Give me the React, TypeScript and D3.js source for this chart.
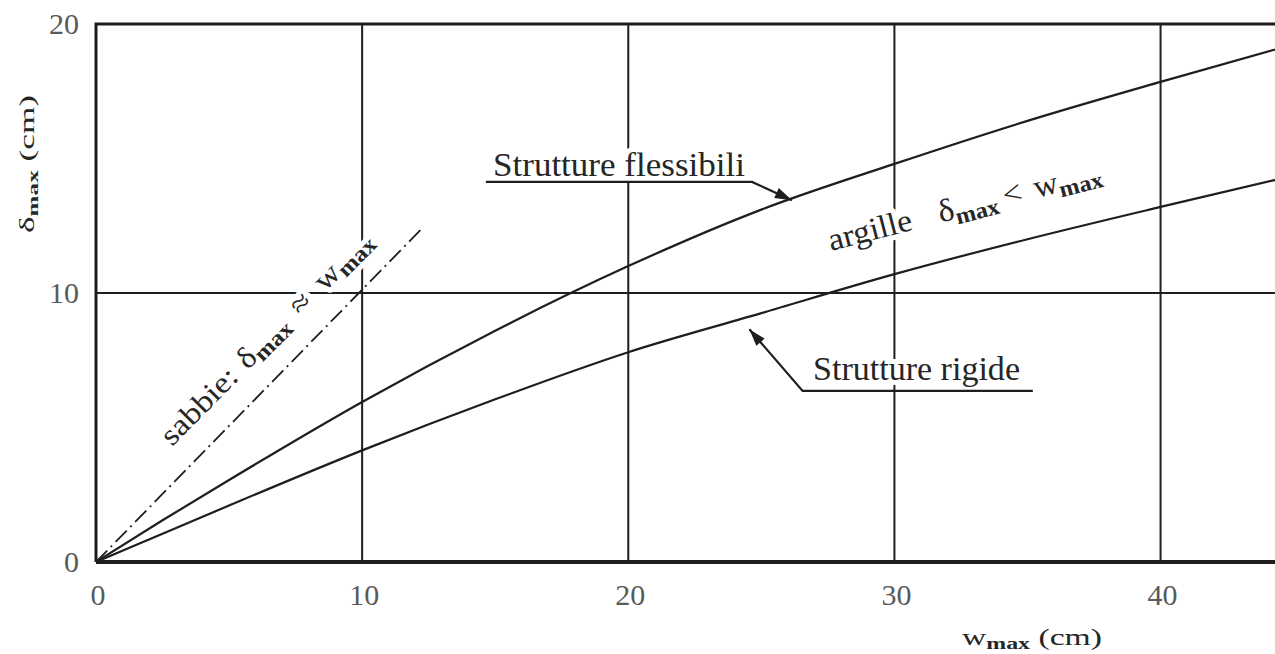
import React from 'react';
import * as d3 from 'd3';

// ---- data ----
const W_MAX = [0, 2.5, 5, 10, 15, 20, 25, 30, 35, 40, 44.3];
const FLESSIBILI = [0, 1.55, 3.05, 5.95, 8.6, 11.0, 13.1, 14.8, 16.4, 17.85, 19.05];
const RIGIDE = [0, 1.05, 2.1, 4.15, 6.05, 7.8, 9.25, 10.7, 12.0, 13.2, 14.2];
const SABBIE_W = [0, 12.3];
const SABBIE_D = [0, 12.45];
const X_TICKS = [0, 10, 20, 30, 40];
const Y_TICKS = [0, 10, 20];
const X_TICK_LABELS = ['0', '10', '20', '30', '40'];
const Y_TICK_LABELS = ['0', '10', '20'];
const X_GRID = [10, 20, 30, 40];
const Y_GRID = [10];

const X_DOMAIN: [number, number] = [0, 44.3];
const Y_DOMAIN: [number, number] = [0, 20];

// annotation anchors in data units
const FLEX_ARROW = { fromX: 14.65, toX: 24.65, lineY: 14.13, tipX: 26.15, tipY: 13.45 };
const RIG_ARROW = { fromX: 35.2, toX: 26.55, lineY: 6.36, tipX: 24.55, tipY: 8.65 };

const FONT = 'Liberation Serif, DejaVu Serif, serif';
const INK = '#1e1e1e';
const TXT = '#262626';
const TICK = '#5a5a5a';

export default function App() {
  const W = 1275;
  const H = 654;
  const x = d3.scaleLinear().domain(X_DOMAIN).range([96, 1275]);
  const y = d3.scaleLinear().domain(Y_DOMAIN).range([562, 24]);

  const curve = (vals: number[]) =>
    d3
      .line<number>()
      .x((_, i) => x(W_MAX[i]))
      .y((d) => y(d))
      .curve(d3.curveMonotoneX)(vals) as string;

  const sabbie = d3
    .line<number>()
    .x((d) => x(d))
    .y((_, i) => y(SABBIE_D[i]))(SABBIE_W) as string;

  const arrowHead = (fx: number, fy: number, tx: number, ty: number, len = 17, half = 5.5) => {
    const dx = tx - fx;
    const dy = ty - fy;
    const L = Math.hypot(dx, dy);
    const ux = dx / L;
    const uy = dy / L;
    const bx = tx - ux * len;
    const by = ty - uy * len;
    const px = -uy * half;
    const py = ux * half;
    return `M${tx},${ty}L${bx + px},${by + py}L${bx - px},${by - py}Z`;
  };

  const flexPath = `M${x(FLEX_ARROW.fromX)},${y(FLEX_ARROW.lineY)}H${x(FLEX_ARROW.toX)}L${x(FLEX_ARROW.tipX)},${y(FLEX_ARROW.tipY)}`;
  const rigPath = `M${x(RIG_ARROW.fromX)},${y(RIG_ARROW.lineY)}H${x(RIG_ARROW.toX)}L${x(RIG_ARROW.tipX)},${y(RIG_ARROW.tipY)}`;

  const labels = (halo: boolean) => {
    const p = halo
      ? { fill: '#fff', stroke: '#fff', strokeWidth: 10, strokeLinejoin: 'round' as const }
      : { fill: TXT };
    return (
      <g style={{ fontFamily: FONT }}>
        <text x={493} y={176} fontSize={33} textLength={252} lengthAdjust="spacingAndGlyphs" {...p}>
          Strutture flessibili
        </text>
        <text x={813} y={380} fontSize={33} textLength={207} lengthAdjust="spacingAndGlyphs" {...p}>
          Strutture rigide
        </text>
        <g transform="translate(831,251) rotate(-14.5)">
          <text fontSize={32} textLength={281} lengthAdjust="spacingAndGlyphs" {...p}>
            argille
            <tspan dx={26}>δ</tspan>
            <tspan fontSize={23} fontWeight="bold" dy={6}>max</tspan>
            <tspan dx={6} dy={-6}>&lt;</tspan>
            <tspan dx={12}>w</tspan>
            <tspan fontSize={23} fontWeight="bold" dy={6}>max</tspan>
          </text>
        </g>
        <g transform="translate(172,447) rotate(-45.3)">
          <text fontSize={30} textLength={288} lengthAdjust="spacingAndGlyphs" {...p}>
            sabbie:
            <tspan dx={10}>δ</tspan>
            <tspan fontSize={22} fontWeight="bold" dy={5}>max</tspan>
            <tspan dx={12} dy={-5}>≈</tspan>
            <tspan dx={14}>w</tspan>
            <tspan fontSize={22} fontWeight="bold" dy={5}>max</tspan>
          </text>
        </g>
      </g>
    );
  };

  return (
    <svg
      width={W}
      height={H}
      style={{ position: 'absolute', left: 0, top: 0, background: '#fff' }}
    >
      <rect x={0} y={0} width={W} height={H} fill="#fff" />

      {/* grid */}
      <g stroke={INK} strokeWidth={2}>
        {X_GRID.map((v) => (
          <line key={'gx' + v} x1={x(v)} x2={x(v)} y1={y(0)} y2={y(20)} />
        ))}
        {Y_GRID.map((v) => (
          <line key={'gy' + v} x1={x(0)} x2={x(X_DOMAIN[1])} y1={y(v)} y2={y(v)} />
        ))}
      </g>

      {/* frame */}
      <path
        d={`M${x(0)},${y(0)}V${y(20)}H${x(X_DOMAIN[1])}`}
        fill="none"
        stroke={INK}
        strokeWidth={3}
      />
      <line x1={x(0)} x2={x(X_DOMAIN[1])} y1={y(0)} y2={y(0)} stroke={INK} strokeWidth={4} />

      {/* label halos cut the grid */}
      {labels(true)}

      {/* curves */}
      <path d={curve(FLESSIBILI)} fill="none" stroke={INK} strokeWidth={2.2} />
      <path d={curve(RIGIDE)} fill="none" stroke={INK} strokeWidth={2.2} />
      <path d={sabbie} fill="none" stroke={INK} strokeWidth={1.8} strokeDasharray="16 5 2 5" />

      {/* arrows */}
      <path d={flexPath} fill="none" stroke={INK} strokeWidth={2.2} />
      <path
        d={arrowHead(x(FLEX_ARROW.toX), y(FLEX_ARROW.lineY), x(FLEX_ARROW.tipX), y(FLEX_ARROW.tipY))}
        fill={INK}
      />
      <path d={rigPath} fill="none" stroke={INK} strokeWidth={2.2} />
      <path
        d={arrowHead(x(RIG_ARROW.toX), y(RIG_ARROW.lineY), x(RIG_ARROW.tipX), y(RIG_ARROW.tipY))}
        fill={INK}
      />

      {labels(false)}

      {/* tick labels */}
      <g style={{ fontFamily: FONT }} fontSize={30} fill={TICK}>
        {Y_TICKS.map((v, i) => (
          <text key={'yt' + v} x={79} y={y(v) + 10} textAnchor="end">
            {Y_TICK_LABELS[i]}
          </text>
        ))}
        {X_TICKS.map((v, i) => (
          <text key={'xt' + v} x={x(v) + 2} y={605} textAnchor="middle">
            {X_TICK_LABELS[i]}
          </text>
        ))}
      </g>

      {/* axis titles */}
      <g transform="translate(34,164) rotate(-90)" style={{ fontFamily: FONT }} fill={TXT}>
        <text textAnchor="middle" fontSize={21} textLength={138} lengthAdjust="spacingAndGlyphs">
          δ<tspan fontSize={15} fontWeight="bold" dy={4}>max</tspan>
          <tspan dy={-4}> (cm)</tspan>
        </text>
      </g>
      <text
        x={962}
        y={645}
        style={{ fontFamily: FONT }}
        fill={TXT}
        fontSize={24}
        textLength={140}
        lengthAdjust="spacingAndGlyphs"
      >
        w<tspan fontSize={17} fontWeight="bold" dy={4}>max</tspan>
        <tspan dy={-4}> (cm)</tspan>
      </text>
    </svg>
  );
}
